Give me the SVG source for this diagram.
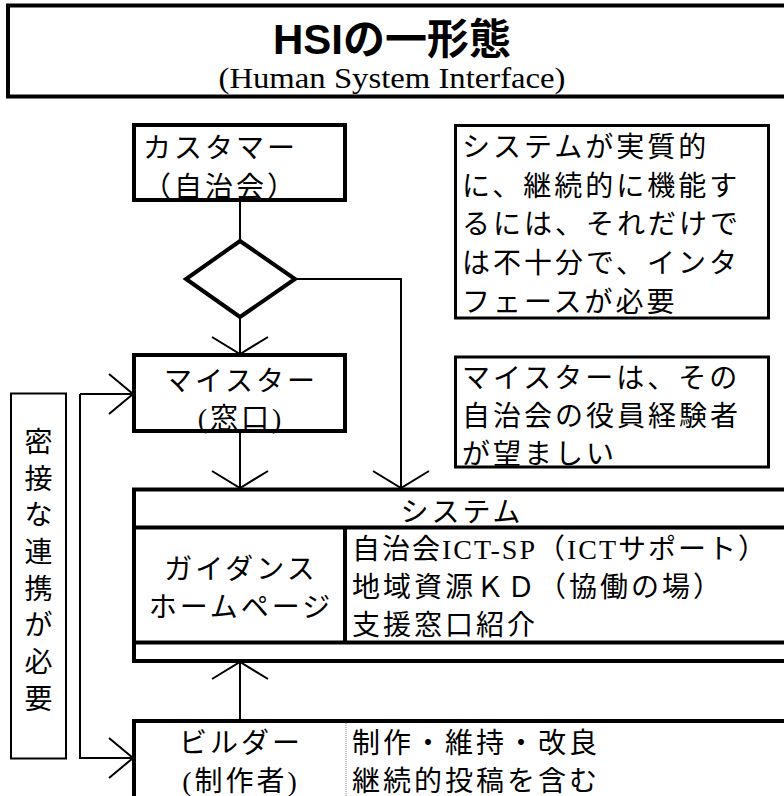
<svg xmlns="http://www.w3.org/2000/svg" width="784" height="796" viewBox="0 0 784 796">
<style>
.box{fill:#fff;stroke:#000;stroke-width:4}
.note{fill:#fff;stroke:#000;stroke-width:3}
.thin{fill:#fff;stroke:#000;stroke-width:2}
.ln{fill:none;stroke:#000;stroke-width:4}
.con{fill:none;stroke:#000;stroke-width:2}
.jp{font-family:"Liberation Serif","Noto Sans CJK JP",serif;font-size:28px;font-weight:normal;letter-spacing:3px;fill:#000}
.tight{letter-spacing:2px}
.mid{text-anchor:middle}
.title{font-family:"Liberation Sans","Noto Sans CJK JP",sans-serif;font-size:42px;font-weight:bold;fill:#000;text-anchor:middle}
.sub{font-family:"Liberation Serif","Noto Sans CJK JP",serif;font-size:30px;fill:#000;text-anchor:middle}
</style>
<defs>
<marker id="arrowV" markerUnits="userSpaceOnUse" viewBox="-30 -32 34 64" markerWidth="34" markerHeight="64" refX="0" refY="0" orient="auto">
<path d="M-17,-28 L0,0 L-17,28" fill="none" stroke="#000" stroke-width="2"/>
</marker>
<marker id="arrowH" markerUnits="userSpaceOnUse" viewBox="-30 -26 34 52" markerWidth="34" markerHeight="52" refX="0" refY="0" orient="auto">
<path d="M-24,-20 L0,0 L-24,20" fill="none" stroke="#000" stroke-width="2"/>
</marker>
<clipPath id="custClip"><rect x="134" y="125" width="211" height="73"/></clipPath>
</defs>
<rect width="784" height="796" fill="#fff"/>

<g id="title">
<rect class="box" x="8" y="5.5" width="790" height="91"/>
<text class="title" x="392" y="54">HSIの一形態</text>
<text class="sub" x="392" y="88" textLength="347" lengthAdjust="spacingAndGlyphs">(Human System Interface)</text>
</g>

<g id="connectors">
<line class="con" x1="240" y1="200" x2="240" y2="241"/>
<line class="con" x1="240" y1="317" x2="240" y2="354" marker-end="url(#arrowV)"/>
<polyline class="con" points="295,279 401,279 401,488" marker-end="url(#arrowV)"/>
<line class="con" x1="240" y1="431" x2="240" y2="488" marker-end="url(#arrowV)"/>
<line class="con" x1="240" y1="721" x2="240" y2="662" marker-end="url(#arrowV)"/>
<polyline class="con" points="80,394 80,758 133,758" marker-end="url(#arrowH)"/>
<line class="con" x1="80" y1="394" x2="133" y2="394" marker-end="url(#arrowH)"/>
</g>

<g id="customer">
<rect class="box" x="134" y="125" width="211" height="75"/>
<g clip-path="url(#custClip)">
<text class="jp" x="143" y="158">カスタマー</text>
<text class="jp" x="143" y="197">（自治会）</text>
</g>
</g>

<g id="decision">
<polygon class="box" points="240,241 295,279 240,317 186,279"/>
</g>

<g id="note1">
<rect class="note" x="455.5" y="125.5" width="313" height="192.5"/>
<text class="jp" x="462" y="157">システムが実質的</text>
<text class="jp" x="462" y="196">に、継続的に機能す</text>
<text class="jp" x="462" y="234">るには、それだけで</text>
<text class="jp" x="462" y="273">は不十分で、インタ</text>
<text class="jp" x="462" y="312">フェースが必要</text>
</g>

<g id="meister">
<rect class="box" x="134" y="355" width="211" height="76"/>
<text class="jp mid" x="241" y="391">マイスター</text>
<text class="jp mid" x="241" y="428">(窓口)</text>
</g>

<g id="note2">
<rect class="note" x="455.5" y="357" width="313" height="110"/>
<text class="jp" x="462" y="388">マイスターは、その</text>
<text class="jp" x="462" y="426">自治会の役員経験者</text>
<text class="jp" x="462" y="464">が望ましい</text>
</g>

<g id="cooperation">
<rect class="thin" x="11" y="393.5" width="55" height="365"/>
<text class="jp mid" x="40" y="452">密</text>
<text class="jp mid" x="40" y="489">接</text>
<text class="jp mid" x="40" y="525">な</text>
<text class="jp mid" x="40" y="562">連</text>
<text class="jp mid" x="40" y="599">携</text>
<text class="jp mid" x="40" y="635">が</text>
<text class="jp mid" x="40" y="672">必</text>
<text class="jp mid" x="40" y="709">要</text>
</g>

<g id="system">
<rect class="box" x="134" y="489.5" width="660" height="171.5"/>
<line class="ln" x1="134" y1="527.5" x2="794" y2="527.5"/>
<line class="ln" x1="134" y1="642.5" x2="794" y2="642.5"/>
<line class="ln" x1="345" y1="527.5" x2="345" y2="642.5"/>
<text class="jp mid" x="462" y="522">システム</text>
<text class="jp mid" x="241" y="579">ガイダンス</text>
<text class="jp mid" x="241" y="617">ホームページ</text>
<text class="jp tight" x="352" y="559">自治会ICT-SP（ICTサポート）</text>
<text class="jp" x="352" y="597">地域資源ＫＤ（協働の場）</text>
<text class="jp" x="352" y="635">支援窓口紹介</text>
</g>

<g id="builder">
<rect class="box" x="134" y="721" width="660" height="100"/>
<line x1="346" y1="723" x2="346" y2="796" stroke="#888" stroke-width="1" stroke-dasharray="1,1"/>
<text class="jp mid" x="241" y="753">ビルダー</text>
<text class="jp mid" x="241" y="791">(制作者)</text>
<text class="jp" x="352" y="753">制作・維持・改良</text>
<text class="jp" x="352" y="791">継続的投稿を含む</text>
</g>
</svg>
